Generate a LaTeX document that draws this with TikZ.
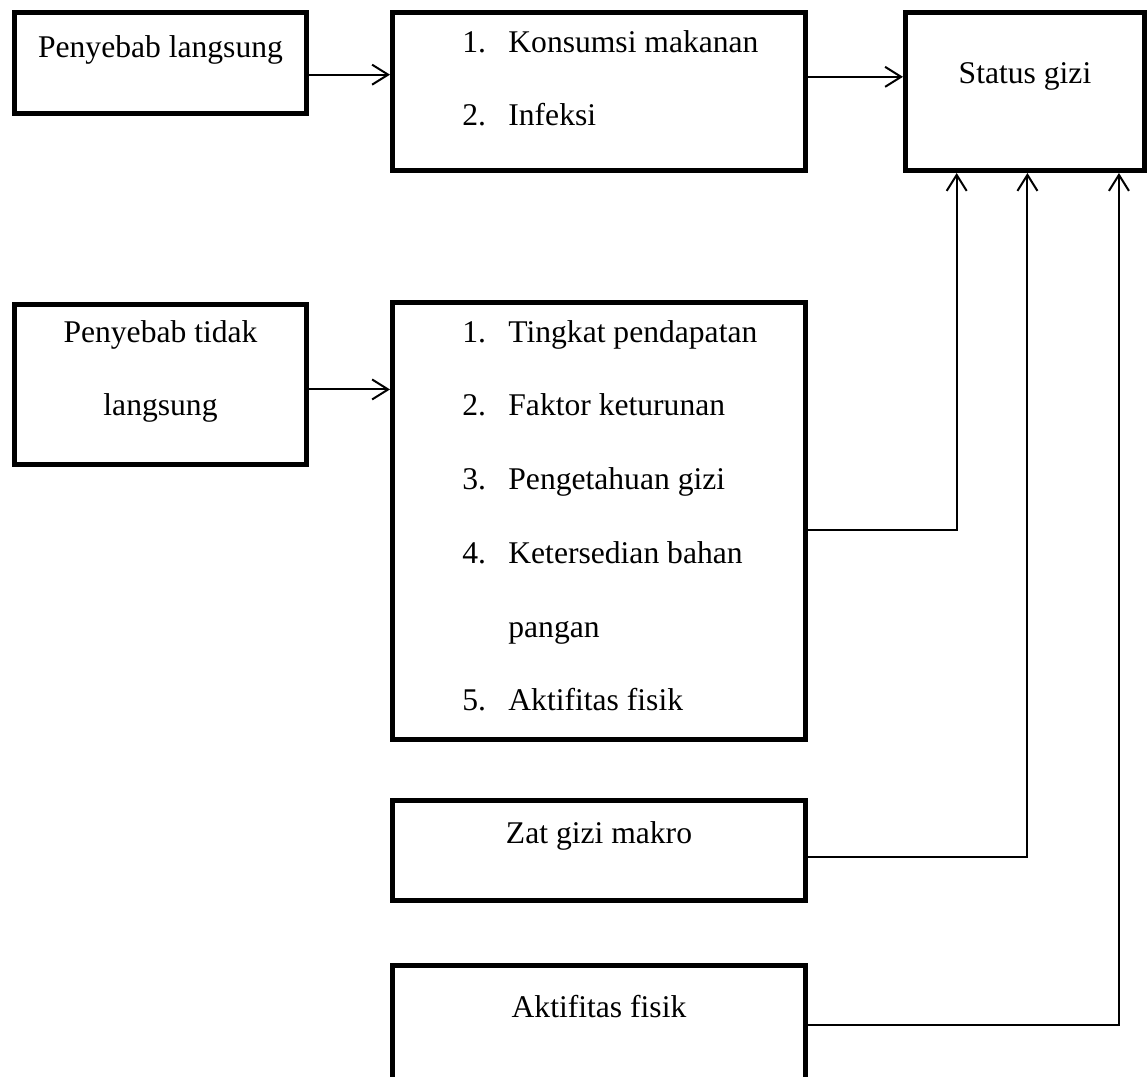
\documentclass[tikz,border=0pt]{standalone}
\usepackage{fontspec}
\setmainfont{Liberation Serif}
\usepackage{tikz}
\usetikzlibrary{positioning,calc,arrows.meta}
\tikzset{
  kotak/.style={draw=black,line width=2.5pt,rectangle,inner sep=0pt,anchor=north west},
  teks/.style={font=\fontsize{15.8}{18}\selectfont,inner sep=0pt},
  panah/.style={-{Straight Barb[length=8pt,width=10pt,line width=1pt]},line width=1pt},
  garis/.style={line width=1pt}
}

\begin{document}
\begin{tikzpicture}[x=0.5pt,y=-0.5pt]
  \path[use as bounding box,fill=white] (0,0) rectangle (1148,1077);
  % kotak
  \node[kotak,minimum width=146pt,minimum height=50.5pt] (pl) at (12,10) {};
  \node[kotak,minimum width=206.5pt,minimum height=79pt] (fl) at (390,10) {};
  \node[kotak,minimum width=119.5pt,minimum height=79pt] (sg) at (903,10) {};
  \node[kotak,minimum width=146pt,minimum height=80pt] (ptl) at (12,302) {};
  \node[kotak,minimum width=206.5pt,minimum height=218.5pt] (ftl) at (390,300) {};
  \node[kotak,minimum width=206.5pt,minimum height=50pt] (zgm) at (390,798) {};
  \node[kotak,minimum width=206.5pt,minimum height=58pt] (af) at (390,963) {};
  % teks
  \node[teks,anchor=base] (plT) at ($(pl.north)+(0,47)$) {Penyebab langsung};
  \node[teks,anchor=base] (sgT) at ($(sg.north)+(0,73)$) {Status gizi};
  \node[teks,anchor=base] (ptlA) at ($(ptl.north)+(0,40)$) {Penyebab tidak};
  \node[teks,anchor=base] (ptlB) at ($(ptl.north)+(0,113)$) {langsung};
  \node[teks,anchor=base] (zgmT) at ($(zgm.north)+(0,45)$) {Zat gizi makro};
  \node[teks,anchor=base] (afT) at ($(af.north)+(0,54)$) {Aktifitas fisik};
  \foreach \n/\t/\y [count=\i] in {1./Konsumsi makanan/42, 2./Infeksi/115}{
    \node[teks,anchor=base west] (flN\i) at ($(fl.north west)+(72,\y)$) {\n};
    \node[teks,anchor=base west] (flT\i) at ($(fl.north west)+(118,\y)$) {\t};
  }
  \foreach \n/\t/\y [count=\i] in {1./Tingkat pendapatan/42, 2./Faktor keturunan/115,
      3./Pengetahuan gizi/189, 4./Ketersedian bahan/263, /pangan/337, 5./Aktifitas fisik/410}{
    \node[teks,anchor=base west] (ftlN\i) at ($(ftl.north west)+(72,\y)$) {\n};
    \node[teks,anchor=base west] (ftlT\i) at ($(ftl.north west)+(118,\y)$) {\t};
  }
  % titik hubung
  \coordinate (a1) at ($(pl.north east)!0.61!(pl.south east)$);
  \coordinate (a2) at ($(fl.north east)!0.41!(fl.south east)$);
  \coordinate (a3) at ($(ptl.north east)!0.53!(ptl.south east)$);
  \coordinate (a4) at ($(ftl.north east)!0.52!(ftl.south east)$);
  \coordinate (a5) at ($(zgm.north east)!0.56!(zgm.south east)$);
  \coordinate (a6) at ($(af.north east)!0.51!(af.south east)$);
  \coordinate (m1) at ($(sg.south west)!0.22!(sg.south east)$);
  \coordinate (m2) at ($(sg.south west)!0.51!(sg.south east)$);
  \coordinate (m3) at ($(sg.south west)!0.885!(sg.south east)$);
  % panah
  \draw[panah] (a1) -- (a1 -| fl.west);
  \draw[panah] (a2) -- (a2 -| sg.west);
  \draw[panah] (a3) -- (a3 -| ftl.west);
  \draw[panah] (a4) -| (m1);
  \draw[panah] (a5) -| (m2);
  \draw[panah] (a6) -| (m3);
\end{tikzpicture}
\end{document}
